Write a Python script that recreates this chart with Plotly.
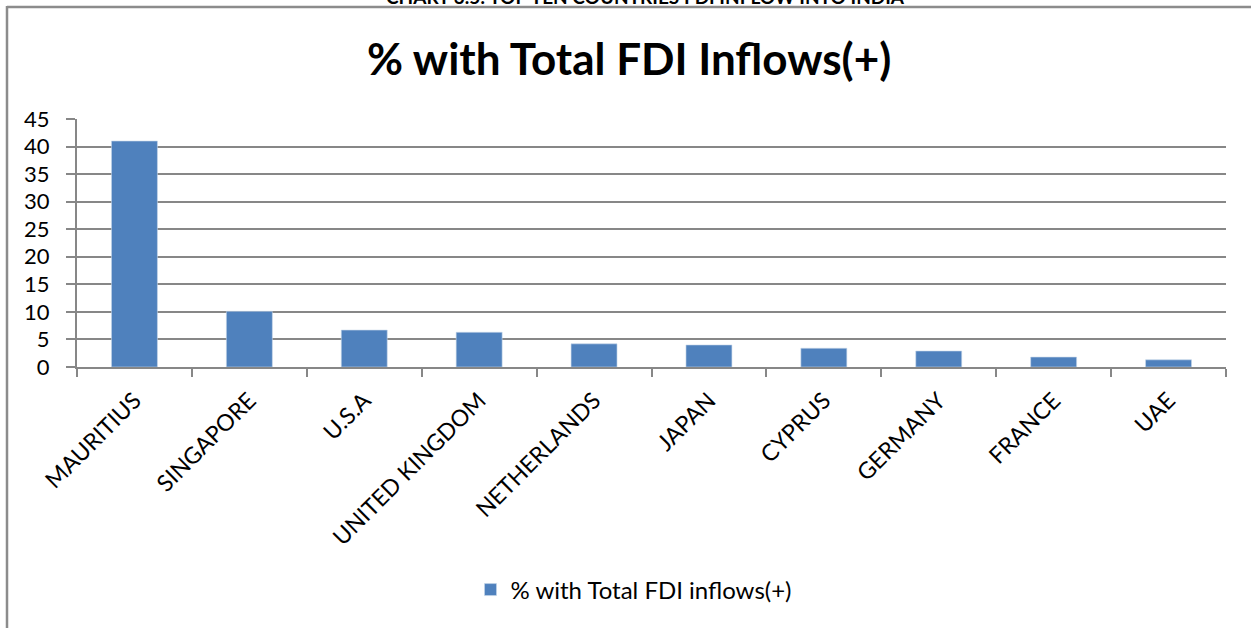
import plotly.graph_objects as go

countries = ["MAURITIUS", "SINGAPORE", "U.S.A", "UNITED KINGDOM", "NETHERLANDS",
             "JAPAN", "CYPRUS", "GERMANY", "FRANCE", "UAE"]
share_pct = [41.0, 10.1, 6.7, 6.3, 4.2, 4.0, 3.4, 2.9, 1.8, 1.3]
y_ticks = [0, 5, 10, 15, 20, 25, 30, 35, 40, 45]

W, H = 1251, 628
L, R, T, B = 77, 25, 119, 261
pw, ph = W - L - R, H - T - B


def px(x):
    return (x - L) / pw


def py(y):
    return (H - B - y) / ph


FONT = "Lato, Calibri, Carlito, sans-serif"
GRID = "#878787"

fig = go.Figure()
fig.add_trace(go.Bar(
    x=countries, y=share_pct, name="% with Total FDI inflows(+)",
    marker=dict(color="#4F81BD", line=dict(color="#C8D6EA", width=0.6)),
))

fig.update_layout(
    width=W, height=H,
    margin=dict(l=L, r=R, t=T, b=B, autoexpand=False),
    paper_bgcolor="white", plot_bgcolor="white",
    font=dict(family=FONT, color="black"),
    bargap=0.6,
    showlegend=True,
    legend=dict(x=px(634), y=py(590), xanchor="center", yanchor="middle",
                font=dict(size=24, family=FONT), itemwidth=30,
                bgcolor="rgba(0,0,0,0)"),
    xaxis=dict(
        type="category", tickson="boundaries", ticks="outside", ticklen=8,
        tickcolor=GRID, tickwidth=2, showline=True, linecolor=GRID, linewidth=2,
        tickangle=-45, tickfont=dict(size=23, family=FONT), showgrid=False,
        ticklabelstandoff=9,
    ),
    yaxis=dict(
        range=[0, 45], tickvals=y_ticks, ticks="outside", ticklen=9,
        tickcolor=GRID, tickwidth=2, showline=True, linecolor=GRID, linewidth=2,
        showgrid=True, gridcolor=GRID, gridwidth=2, zeroline=False,
        tickfont=dict(size=22, family=FONT), ticklabelstandoff=12,
    ),
    annotations=[
        dict(text="<b>% with Total FDI Inflows(+)</b>", x=px(629), y=py(58),
             xref="paper", yref="paper", xanchor="center", yanchor="middle",
             showarrow=False, font=dict(size=44, family=FONT)),
        dict(text="<b>CHART 3.5: TOP TEN COUNTRIES FDI INFLOW INTO INDIA</b>",
             x=px(645), y=py(-4), xref="paper", yref="paper",
             xanchor="center", yanchor="middle", showarrow=False,
             font=dict(size=19, family=FONT)),
    ],
    shapes=[
        dict(type="line", xref="paper", yref="paper", x0=px(7), x1=px(W + 5),
             y0=py(7), y1=py(7), line=dict(color="#8C8C8C", width=2.5)),
        dict(type="line", xref="paper", yref="paper", x0=px(7), x1=px(7),
             y0=py(6), y1=py(H + 5), line=dict(color="#8C8C8C", width=2.5)),
    ],
)

fig.write_html("out.html")
